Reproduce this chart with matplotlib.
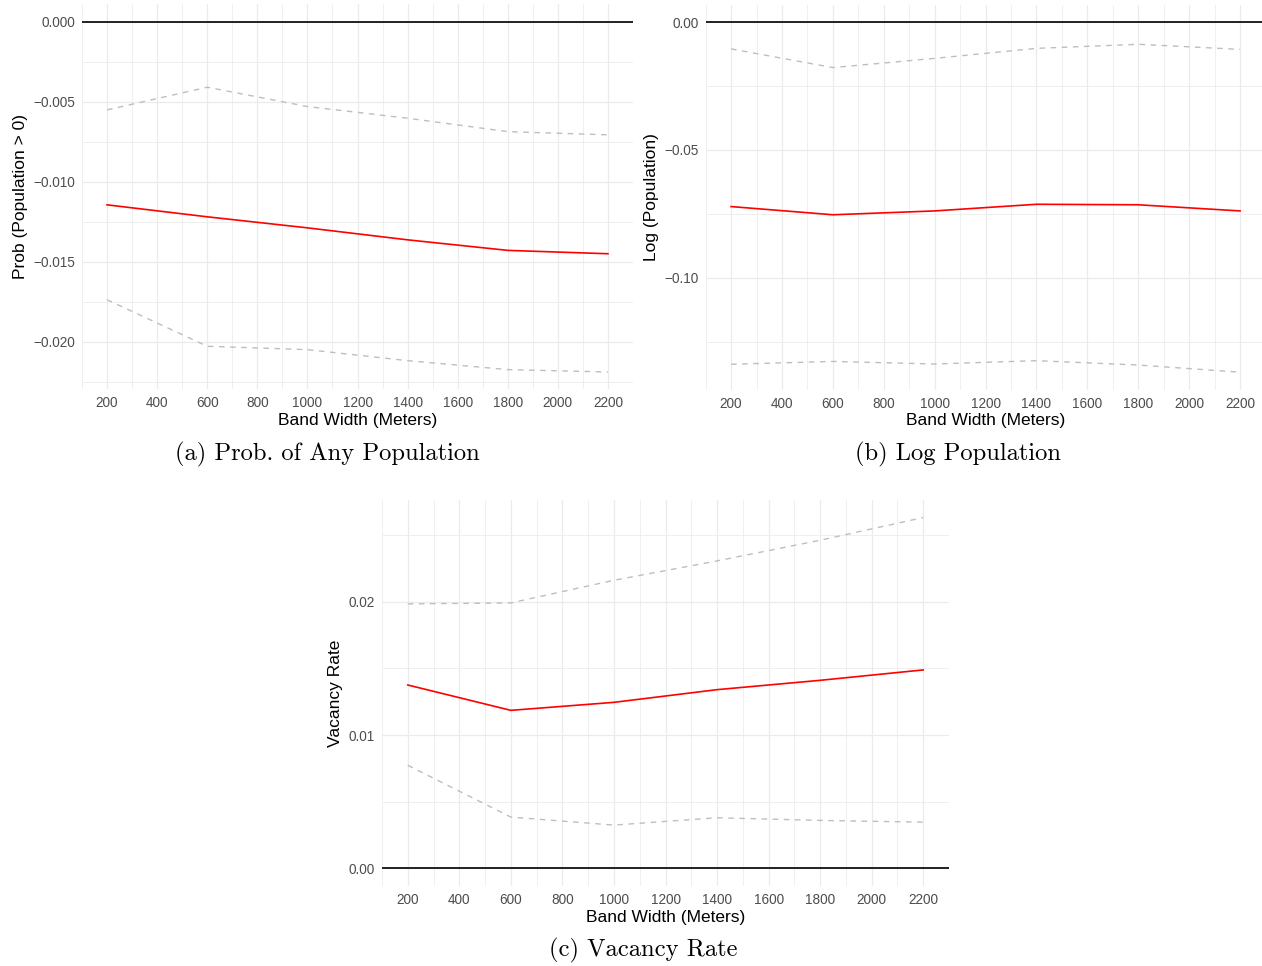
import numpy as np
import matplotlib
matplotlib.use("Agg")
import matplotlib.pyplot as plt
from matplotlib.ticker import FixedLocator, FuncFormatter

plt.rcParams['font.family'] = ['Liberation Sans', 'DejaVu Sans']

# band widths (meters)
band = [200, 600, 1000, 1400, 1800, 2200]

# (a) prob of any population
prob_est = [-0.01144, -0.01219, -0.01288, -0.01363, -0.01429, -0.0145]
prob_hi = [-0.0055, -0.00408, -0.00529, -0.00602, -0.00686, -0.00706]
prob_lo = [-0.01738, -0.02029, -0.0205, -0.02119, -0.02175, -0.0219]

# (b) log population
logp_est = [-0.0721, -0.0753, -0.0738, -0.0712, -0.0714, -0.0738]
logp_hi = [-0.0105, -0.0178, -0.0142, -0.0103, -0.0087, -0.0107]
logp_lo = [-0.1337, -0.1326, -0.1336, -0.1323, -0.1340, -0.1368]

# (c) vacancy rate
vac_est = [0.01375, 0.01185, 0.01245, 0.0134, 0.0141, 0.01488]
vac_hi = [0.01983, 0.0199, 0.0216, 0.02305, 0.0246, 0.0263]
vac_lo = [0.00773, 0.00385, 0.00325, 0.0038, 0.0036, 0.00347]

x_major = [200, 400, 600, 800, 1000, 1200, 1400, 1600, 1800, 2000, 2200]
x_minor = [100, 300, 500, 700, 900, 1100, 1300, 1500, 1700, 1900, 2100, 2300]

W, H = 1262, 966
fig = plt.figure(figsize=(W / 100, H / 100), dpi=100)


def px_axes(left, top, right, bottom):
    return fig.add_axes([left / W, 1 - bottom / H, (right - left) / W, (bottom - top) / H])


def panel(ax, est, hi, lo, ylab, ymaj, ymin, dec, caption, cap_xy):
    lo_all = min(min(lo), 0)
    hi_all = max(max(hi), 0)
    pad = 0.05 * (hi_all - lo_all)
    ax.set_xlim(100, 2300)
    ax.set_ylim(lo_all - pad, hi_all + pad)
    for s in ax.spines.values():
        s.set_visible(False)
    ax.xaxis.set_major_locator(FixedLocator(x_major))
    ax.xaxis.set_minor_locator(FixedLocator(x_minor))
    ax.yaxis.set_major_locator(FixedLocator(ymaj))
    ax.yaxis.set_minor_locator(FixedLocator(ymin))
    ax.yaxis.set_major_formatter(FuncFormatter(lambda v, p: ('%.*f' % (dec, v)).replace('-', '\u2212')))
    ax.grid(which='major', color='#EBEBEB', lw=0.9)
    ax.grid(which='minor', color='#EDEDED', lw=0.6)
    ax.set_axisbelow(True)
    ax.tick_params(which='both', length=0, labelsize=9.8, labelcolor='#4D4D4D')
    ax.tick_params(axis='y', pad=5)
    ax.tick_params(axis='x', pad=5)
    ax.axhline(0, color='#222222', lw=1.4)
    ax.plot(band, est, color='red', lw=1.2)
    ax.plot(band, hi, color='#BEBEBE', lw=1.0, ls=(0, (4, 4)))
    ax.plot(band, lo, color='#BEBEBE', lw=1.0, ls=(0, (4, 4)))
    ax.set_xlabel('Band Width (Meters)', fontsize=12.5, labelpad=2)
    ax.set_ylabel(ylab, fontsize=12.5, labelpad=4)
    fig.text(cap_xy[0] / W, 1 - cap_xy[1] / H, caption, family='cmr10', fontsize=17.7,
             ha='center', va='center')


ax1 = px_axes(82, 4.5, 633, 389.5)
panel(ax1, prob_est, prob_hi, prob_lo, 'Prob (Population > 0)',
      [0, -0.005, -0.01, -0.015, -0.02], [-0.0025, -0.0075, -0.0125, -0.0175, -0.0225],
      3, '(a) Prob. of Any Population', (327, 454))

ax2 = px_axes(705.6, 4.5, 1265.5, 389.7)
panel(ax2, logp_est, logp_hi, logp_lo, 'Log (Population)',
      [0, -0.05, -0.1], [-0.025, -0.075, -0.125],
      2, '(b) Log Population', (958, 454))

ax3 = px_axes(382, 500, 949, 886)
panel(ax3, vac_est, vac_hi, vac_lo, 'Vacancy Rate',
      [0, 0.01, 0.02], [0.005, 0.015, 0.025],
      2, '(c) Vacancy Rate', (643, 950))

fig.savefig('out.png', dpi=100)
